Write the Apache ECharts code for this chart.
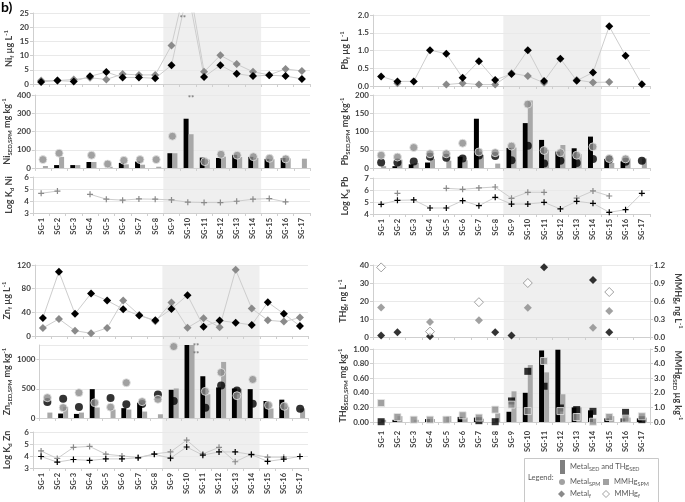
<!DOCTYPE html>
<html><head><meta charset="utf-8">
<script src="https://cdn.jsdelivr.net/npm/echarts@6/dist/echarts.min.js"></script>
<style>html,body{margin:0;padding:0;background:#fff}#c{width:685px;height:502px}</style>
</head><body><div id="c"></div>
<script>
// ---------------- DATA ----------------
const categories = ['SG-1','SG-2','SG-3','SG-4','SG-5','SG-6','SG-7','SG-8','SG-9','SG-10','SG-11','SG-12','SG-13','SG-14','SG-15','SG-16','SG-17'];
const shadedFrom = 'SG-9';
const shadedTo = 'SG-14';
const overflowSite = 'SG-10';

// Ni
const niF_black = [0.7,1.2,0.9,2.7,4.2,2.3,2.3,2.0,6.6,33,2.5,6.6,3.6,2.8,3.1,2.8,1.8];
const niF_grey  = [1.2,1.2,1.6,2.2,1.6,3.5,3.2,3.2,13.6,38,4.3,10.1,7.0,4.3,3.2,5.3,4.6];
const niSed_black = [null,16,16,33,null,28,35,null,81,270,57,55,72,61,50,55,null];
const niSed_grey  = [11,61,16,33,7,20,18,7,81,185,46,62,60,55,48,53,51];
const niSpm_grey  = [46,81,null,70,22,42,46,46,174,null,35,75,70,62,53,50,null];
const niKd_grey   = [4.64,4.83,null,4.56,4.15,4.07,4.17,4.15,4.09,3.90,3.87,3.87,3.98,4.15,4.20,3.93,null];

// Pb
const pbF_black = [0.27,0.13,0.13,1.01,0.91,0.23,0.70,0.17,0.34,1.01,0.14,0.77,0.15,0.38,1.68,0.85,0.05];
const pbF_grey  = [null,0.08,null,null,0.04,0.08,0.04,0.04,0.36,0.28,0.09,null,0.17,0.10,0.11,null,null];
const pbSed_black = [null,5,10,15,null,31,135,null,55,123,77,45,54,86,25,18,null];
const pbSed_grey  = [5,23,14,25,20,21,36,12,56,185,50,63,38,null,14,26,26];
const pbSpm_grey  = [35,30,56,39,39,68,44,42,60,175,48,42,35,58,26,25,null];
const pbSpm_black = [15,15,18,31,28,26,34,33,21,61,12,20,14,25,23,17,20];
const pbKd_black  = [4.81,5.14,5.17,4.50,4.50,5.11,4.69,5.39,4.83,4.83,4.97,4.42,5.06,4.89,4.14,4.36,5.72];
const pbKd_grey   = [null,5.72,null,null,6.14,6.06,6.17,6.25,5.31,5.81,5.81,null,5.33,5.92,5.50,null,null];

// Zn
const znF_black = [30.6,108.7,37.4,71.9,60,45.3,34.5,26.6,45.8,69,15.8,26,22.6,18.7,57,37.4,17];
const znF_grey  = [13.6,28.9,9,4.5,13.6,60,35.6,24.9,56.6,14.1,30,14.7,111.9,46.4,26.6,24.3,31.1];
const znSed_black = [null,76,70,494,null,169,262,null,483,1400,715,523,506,494,291,314,null];
const znSed_grey  = [93,192,93,180,145,145,110,64,506,1350,407,960,500,null,163,192,163];
const znSpm_grey  = [348,177,433,262,186,604,280,320,1223,null,456,780,382,660,217,200,null];
const znSpm_black = [273,331,188,null,341,234,239,404,290,null,177,558,473,245,null,null,160];
const znKd_black  = [3.96,3.49,3.71,3.63,3.76,3.76,3.85,4.15,3.82,4.75,4.07,4.34,4.34,4.12,3.55,3.74,3.96];
const znKd_grey   = [4.42,3.79,4.72,4.80,4.15,4.01,3.87,4.17,4.34,5.32,4.17,4.72,3.52,4.15,3.90,3.90,null];

// Hg
const thgF_black = [0.9,2.6,null,0.4,null,null,null,2.6,0.9,null,38.7,null,null,31.6,2.6,null,null];
const thgF_grey  = [16.4,null,null,8.4,null,null,9.3,null,null,16.2,null,null,null,5.2,14.5,null,null];
const mmhgF      = [1.16,null,null,0.09,null,null,0.58,null,null,0.90,null,null,null,null,0.75,null,null];
const thgSed_black = [null,0.03,null,0.04,null,0.07,0.06,null,0.14,0.40,0.98,0.99,0.20,0.16,0.05,0.05,0.05];
const thgSed_grey  = [0.03,0.08,0.03,0.04,0.08,0.06,0.045,0.12,0.42,0.78,0.68,0.38,0.20,null,0.08,0.06,0.06];
const mmhgSpm_black = [0.02,null,null,null,null,null,0.09,0.02,1.44,3.47,2.45,0.96,0.85,0.73,null,0.66,0.16];
const mmhgSpm_grey  = [1.30,0.34,0.16,0.16,0.16,0.46,0.30,0.85,1.19,0.75,4.18,0.75,0.34,0.02,0.34,0.23,0.39];

// ---------------- STYLE ----------------
const FONT = 'Lato, "Liberation Sans", sans-serif';
const TXT = '#404040';
const AX = '#cfcfcf';
const GRIDLINE = '#e9e9e9';
const LINE = '#cdcdcd';
const BLACK = '#000000';
const GREY = '#8a8a8a';
const BARGREY = '#a8a8a8';
const SHADE = '#efefef';
const PLUS = 'path://M4 0H6V4H10V6H6V10H4V6H0V4H4Z';

const grid = [], xAxis = [], yAxis = [], series = [];
const clean = a => a.map(v => (v === null ? '-' : v));
const rich = {
  b: {fontSize: 9, fontWeight: 'bold', color: TXT, fontFamily: FONT, lineHeight: 12},
  s: {fontSize: 6, fontWeight: 'bold', color: TXT, fontFamily: FONT, lineHeight: 6, verticalAlign: 'bottom'},
  u: {fontSize: 6, fontWeight: 'bold', color: TXT, fontFamily: FONT, lineHeight: 6, verticalAlign: 'top'}
};

function shade(left, top, width, height) {
  const gi = grid.length;
  grid.push({left, top, width, height, show: false});
  const xi = xAxis.length;
  xAxis.push({type: 'value', gridIndex: gi, min: 0, max: categories.length, show: false});
  const yi = yAxis.length;
  yAxis.push({type: 'value', gridIndex: gi, min: 0, max: 1, show: false});
  series.push({type: 'line', xAxisIndex: xi, yAxisIndex: yi, data: [[0, 0]], showSymbol: false,
    lineStyle: {opacity: 0}, silent: true, z: -2,
    markArea: {silent: true, z: -2, itemStyle: {color: SHADE},
      data: [[{xAxis: categories.indexOf(shadedFrom)}, {xAxis: categories.indexOf(shadedTo) + 1}]]}});
}
function panel(left, top, width, height, showX, margin) {
  const gi = grid.length;
  grid.push({left, top, width, height});
  const xi = xAxis.length;
  xAxis.push({type: 'category', gridIndex: gi, data: categories, boundaryGap: true,
    axisLine: {lineStyle: {color: AX}}, axisTick: {show: true, length: 3, lineStyle: {color: AX}},
    axisLabel: {show: showX, rotate: 90, fontSize: 7.5, fontWeight: 'bold', color: TXT, fontFamily: FONT, margin: margin || 5, interval: 0},
    splitLine: {show: false}});
  return {gi, xi};
}
function yax(gi, o) {
  const yi = yAxis.length;
  yAxis.push({type: 'value', gridIndex: gi, min: o.min, max: o.max, interval: o.interval,
    position: o.right ? 'right' : 'left',
    name: o.name, nameLocation: 'middle', nameRotate: o.right ? -90 : 90, nameGap: o.gap,
    nameTextStyle: {rich, fontFamily: FONT, fontSize: 9, fontWeight: 'bold', color: TXT},
    axisLine: {show: true, lineStyle: {color: AX}},
    axisTick: {show: true, length: 3, lineStyle: {color: AX}},
    axisLabel: {fontSize: 8, fontWeight: 'bold', color: TXT, fontFamily: FONT, margin: 4,
      formatter: o.dec !== undefined ? (v => v.toFixed(o.dec)) : (v => String(v)),
      showMaxLabel: o.hideMax ? false : null},
    splitLine: {show: !o.right, lineStyle: {color: GRIDLINE}}});
  return yi;
}
function line(name, xi, yi, data, symbol, color, size, withLine) {
  const s = {name, type: 'line', xAxisIndex: xi, yAxisIndex: yi, data: clean(data), symbol, symbolSize: size,
    showAllSymbol: true, itemStyle: {color}, lineStyle: {color: LINE, width: 1, opacity: withLine === false ? 0 : 1},
    connectNulls: false, clip: true, z: 4, emphasis: {disabled: true}};
  series.push(s); return s;
}
function bars(name, xi, yi, data, color) {
  const s = {name, type: 'bar', xAxisIndex: xi, yAxisIndex: yi, data: clean(data), barWidth: 5, barGap: '0%',
    itemStyle: {color}, clip: true, z: 2, emphasis: {disabled: true}};
  series.push(s); return s;
}
function dots(name, xi, yi, data, symbol, color, size, border) {
  const s = {name, type: 'scatter', xAxisIndex: xi, yAxisIndex: yi, data: clean(data), symbol, symbolSize: size,
    itemStyle: {color, borderColor: border || color, borderWidth: border ? 1 : 0}, z: 5, clip: true,
    emphasis: {disabled: true}};
  series.push(s); return s;
}
function stars(s, pts) {
  s.markPoint = {symbol: 'circle', symbolSize: 0, silent: true,
    label: {show: true, formatter: '**', fontSize: 8, fontWeight: 'bold', color: '#7a7a7a', fontFamily: FONT},
    data: pts.map(p => ({coord: [overflowSite, p[0]], label: {offset: [p[1], 0]}}))};
}

// ---------------- Ni (top-left) ----------------
shade(33, 13, 277, 200);
let p = panel(33, 13, 277, 71, false);
let y = yax(p.gi, {min: 0, max: 25, interval: 5, name: '{b|Ni}{s|f}{b| µg L}{u|-1}', gap: 18});
line('Metal_f', p.xi, y, niF_grey, 'diamond', GREY, 8);
let s = line('Metal_f (black)', p.xi, y, niF_black, 'diamond', BLACK, 8);
stars(s, [[23.2, -5]]);
p = panel(33, 95, 277, 73, false);
y = yax(p.gi, {min: 0, max: 400, interval: 100, name: '{b|Ni}{s|SED,SPM}{b| mg kg}{u|-1}', gap: 18});
bars('Metal_SED and THg_SED', p.xi, y, niSed_black, BLACK);
s = bars('Metal_SED (grey)', p.xi, y, niSed_grey, BARGREY);
stars(s, [[382, 0]]);
dots('Metal_SPM', p.xi, y, niSpm_grey, 'circle', GREY, 8, '#e6e6e6');
p = panel(33, 177, 277, 36, true);
y = yax(p.gi, {min: 3, max: 6, interval: 1, name: '{b|Log K}{s|d}{b| Ni}', gap: 18});
line('Log Kd (grey)', p.xi, y, niKd_grey, PLUS, GREY, 6);

// ---------------- Pb (top-right) ----------------
shade(373, 15, 277, 199);
p = panel(373, 15, 277, 71, false);
y = yax(p.gi, {min: 0, max: 2, interval: 0.5, dec: 1, name: '{b|Pb}{s|f}{b| µg L}{u|-1}', gap: 22});
line('Metal_f', p.xi, y, pbF_grey, 'diamond', GREY, 8);
line('Metal_f (black)', p.xi, y, pbF_black, 'diamond', BLACK, 8);
p = panel(373, 95, 277, 73, false);
y = yax(p.gi, {min: 0, max: 200, interval: 50, name: '{b|Pb}{s|SED,SPM}{b| mg kg}{u|-1}', gap: 22});
bars('Metal_SED and THg_SED', p.xi, y, pbSed_black, BLACK);
bars('Metal_SED (grey)', p.xi, y, pbSed_grey, BARGREY);
dots('Metal_SPM (black)', p.xi, y, pbSpm_black, 'circle', BLACK, 8);
dots('Metal_SPM', p.xi, y, pbSpm_grey, 'circle', GREY, 8, '#e6e6e6');
p = panel(373, 178, 277, 36, true);
y = yax(p.gi, {min: 4, max: 7, interval: 1, name: '{b|Log K}{s|d}{b| Pb}', gap: 22});
line('Log Kd (grey)', p.xi, y, pbKd_grey, PLUS, GREY, 6);
line('Log Kd (black)', p.xi, y, pbKd_black, PLUS, BLACK, 6);

// ---------------- Zn (bottom-left) ----------------
shade(33, 265, 275, 203);
p = panel(33, 265, 275, 71, false);
y = yax(p.gi, {min: 0, max: 120, interval: 40, name: '{b|Zn}{s|f}{b| µg L}{u|-1}', gap: 20});
line('Metal_f', p.xi, y, znF_grey, 'diamond', GREY, 8);
line('Metal_f (black)', p.xi, y, znF_black, 'diamond', BLACK, 8);
p = panel(33, 345, 275, 73, false);
y = yax(p.gi, {min: 0, max: 1250, interval: 500, hideMax: true, name: '{b|Zn}{s|SED,SPM}{b| mg kg}{u|-1}', gap: 22});
bars('Metal_SED and THg_SED', p.xi, y, znSed_black, BLACK);
s = bars('Metal_SED (grey)', p.xi, y, znSed_grey, BARGREY);
stars(s, [[1222, 4], [1085, 4]]);
dots('Metal_SPM (black)', p.xi, y, znSpm_black, 'circle', BLACK, 8);
dots('Metal_SPM', p.xi, y, znSpm_grey, 'circle', GREY, 8, '#e6e6e6');
p = panel(33, 432, 275, 36, true);
y = yax(p.gi, {min: 3, max: 6, interval: 1, name: '{b|Log K}{s|d}{b| Zn}', gap: 20});
line('Log Kd (grey)', p.xi, y, znKd_grey, PLUS, GREY, 6);
line('Log Kd (black)', p.xi, y, znKd_black, PLUS, BLACK, 6);

// ---------------- Hg (bottom-right) ----------------
shade(373, 265, 278, 157);
p = panel(373, 265, 278, 72, false);
y = yax(p.gi, {min: 0, max: 40, interval: 10, name: '{b|THg}{s|f}{b| ng L}{u|-1}', gap: 24});
let yr = yax(p.gi, {min: 0, max: 1.2, interval: 0.3, dec: 1, right: true, name: '{b|MMHg}{s|f}{b| ng L}{u|-1}', gap: 22});
dots('Metal_f', p.xi, y, thgF_grey, 'diamond', GREY, 8);
dots('THg_f (black)', p.xi, y, thgF_black, 'diamond', BLACK, 8);
dots('MMHg_f', p.xi, yr, mmhgF, 'diamond', '#ffffff', 9, GREY);
p = panel(373, 349, 278, 73, true, 9);
y = yax(p.gi, {min: 0, max: 1, interval: 0.2, dec: 2, name: '{b|THg}{s|SED,SPM}{b| mg kg}{u|-1}', gap: 24});
yr = yax(p.gi, {min: 0, max: 5, interval: 1, dec: 1, right: true, name: '{b|MMHg}{s|SED}{b| µg kg}{u|-1}', gap: 22});
bars('Metal_SED and THg_SED', p.xi, y, thgSed_black, BLACK);
bars('THg_SED (grey)', p.xi, y, thgSed_grey, BARGREY);
dots('MMHg_SPM (black)', p.xi, yr, mmhgSpm_black, 'rect', BLACK, 7);
dots('MMHg_SPM', p.xi, yr, mmhgSpm_grey, 'rect', GREY, 7, '#e6e6e6');

// ---------------- Legend ----------------
const legendText = {
  'Metal_SED and THg_SED': 'Metal{s|SED} and THg{s|SED}',
  'Metal_SPM': 'Metal{s|SPM}', 'MMHg_SPM': 'MMHg{s|SPM}',
  'Metal_f': 'Metal{s|f}', 'MMHg_f': 'MMHg{s|f}'
};
const lb = {orient: 'horizontal', selectedMode: false, padding: 0, itemGap: 0, z: 6,
  formatter: n => legendText[n],
  textStyle: {fontSize: 7.5, color: '#595959', fontFamily: FONT, lineHeight: 10,
    rich: {s: {fontSize: 5.5, color: '#595959', fontFamily: FONT, lineHeight: 5, verticalAlign: 'bottom'}}}};

const chart = echarts.init(document.getElementById('c'), null, {renderer: 'canvas'});
chart.setOption({
  animation: false,
  backgroundColor: '#ffffff',
  grid, xAxis, yAxis, series,
  legend: [
    Object.assign({}, lb, {left: 560, top: 460, itemWidth: 5, itemHeight: 14,
      data: [{name: 'Metal_SED and THg_SED', icon: 'rect', itemStyle: {color: '#7f7f7f'}}]}),
    Object.assign({}, lb, {left: 559, top: 477, itemWidth: 6, itemHeight: 6, data: [{name: 'Metal_SPM', icon: 'circle', itemStyle: {color: GREY, borderWidth: 0}}]}),
    Object.assign({}, lb, {left: 603, top: 477, itemWidth: 6, itemHeight: 6, data: [{name: 'MMHg_SPM', icon: 'rect', itemStyle: {color: GREY, borderWidth: 0}}]}),
    Object.assign({}, lb, {left: 558, top: 489, itemWidth: 7, itemHeight: 7, data: [{name: 'Metal_f', icon: 'diamond', itemStyle: {color: GREY}}]}),
    Object.assign({}, lb, {left: 602, top: 489, itemWidth: 7, itemHeight: 7, data: [{name: 'MMHg_f', icon: 'diamond', itemStyle: {color: '#ffffff', borderColor: GREY, borderWidth: 1}}]})
  ],
  graphic: [
    {type: 'text', left: 1, top: 0, z: 10, style: {text: 'b)', font: 'bold 14px ' + FONT, fill: '#000'}},
    {type: 'rect', left: 524, top: 458, z: 1, shape: {width: 134, height: 50}, style: {fill: '#fff', stroke: '#c8c8c8', lineWidth: 1}},
    {type: 'text', left: 528, top: 474, z: 7, style: {text: 'Legend:', font: '7.5px ' + FONT, fill: '#595959'}}
  ]
});
</script></body></html>
